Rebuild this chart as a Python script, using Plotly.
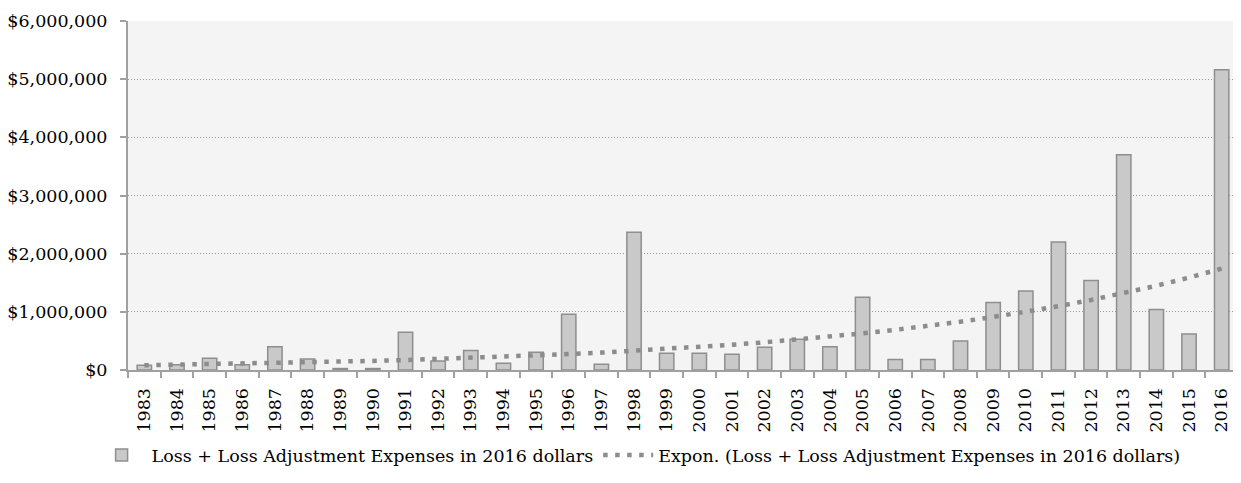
import numpy as np
import plotly.graph_objects as go

years = [str(y) for y in range(1983, 2017)]
losses = [80000, 90000, 200000, 90000, 400000, 190000, 25000, 25000, 650000,
          155000, 335000, 115000, 305000, 960000, 100000, 2370000, 290000,
          290000, 270000, 390000, 530000, 400000, 1250000, 180000, 180000,
          500000, 1160000, 1360000, 2200000, 1540000, 3700000, 1040000,
          620000, 5160000]
bar_name = "Loss + Loss Adjustment Expenses in 2016 dollars"
trend_name = "Expon. (Loss + Loss Adjustment Expenses in 2016 dollars)"

# Exponential trendline (least squares on log values, as a spreadsheet does)
idx = np.arange(1, len(losses) + 1)
b, a = np.polyfit(idx, np.log(losses), 1)
trend = np.exp(a + b * idx)

FONT = "DejaVu Serif"
FS = 17.5

fig = go.Figure()
fig.add_trace(go.Bar(
    x=years, y=losses, name=bar_name,
    marker=dict(color="#c9c9c9", line=dict(color="#8e8e8e", width=1.5)),
))
fig.add_trace(go.Scatter(
    x=years, y=trend, name=trend_name, mode="lines",
    line=dict(color="#8c8c8c", width=4.5, dash="4.5px,7.5px"),
))

fig.update_layout(
    width=1233, height=467,
    margin=dict(l=120, r=3, t=13, b=104),
    paper_bgcolor="white", plot_bgcolor="#f4f4f4",
    font=dict(family=FONT, size=FS, color="black"),
    bargap=0.56,
    showlegend=True,
    legend=dict(orientation="h", x=0.46, xanchor="center", y=-0.24, yanchor="middle",
                font=dict(family=FONT, size=FS), itemwidth=50),
    xaxis=dict(type="category", tickangle=-90, showgrid=False, automargin=False,
               showline=True, linecolor="#a0a0a0", linewidth=2,
               ticks="outside", tickson="boundaries", ticklen=6, tickcolor="#a0a0a0",
               tickwidth=2, tickfont=dict(size=FS), ticklabelstandoff=9),
    yaxis=dict(range=[0, 6000000], dtick=1000000, tickprefix="$", tickformat=",",
               automargin=False,
               showgrid=True, gridcolor="#9a9a9a", griddash="1px,2px", gridwidth=1,
               showline=True, linecolor="#a0a0a0", linewidth=2,
               ticks="outside", ticklen=6, tickcolor="#a0a0a0", tickwidth=2,
               zeroline=False, tickfont=dict(size=FS), ticklabelstandoff=9),
)

fig.write_html("out.html")
